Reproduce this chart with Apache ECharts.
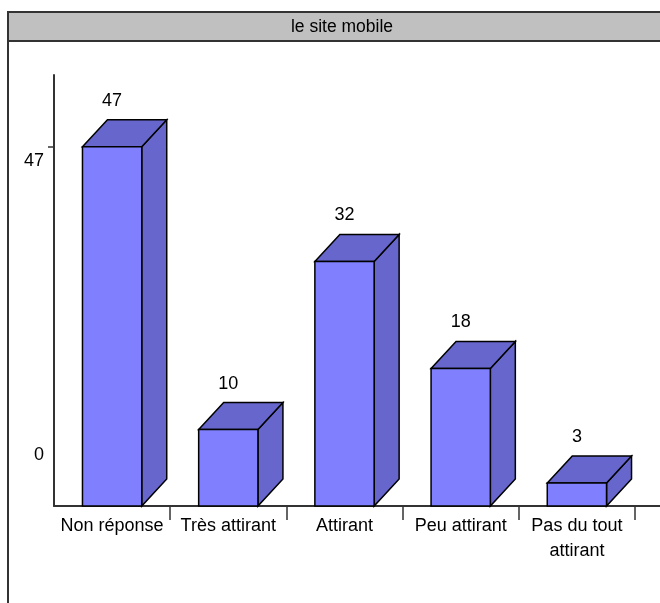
<!DOCTYPE html>
<html>
<head>
<meta charset="utf-8">
<script src="https://cdn.jsdelivr.net/npm/echarts@6/dist/echarts.min.js"></script>
<style>
  html, body { margin: 0; padding: 0; background: #fff; }
  #chart { width: 660px; height: 603px; }
</style>
</head>
<body>
<div id="chart"></div>
<script>
// data
const categories = ['Non réponse', 'Très attirant', 'Attirant', 'Peu attirant', 'Pas du tout\nattirant'];
const counts = [47, 10, 32, 18, 3];
const yLabelValues = [0, 47];
const yTickValues = [47];
const yMax = 56.4;

const FONT = '"Liberation Sans", Arial, sans-serif';
const FRONT = '#8080ff';
const SIDE = '#6666cc';

const chart = echarts.init(document.getElementById('chart'), null, { renderer: 'canvas' });

// 3D box: front face + top + right side, shifted by a fixed depth
function renderBox(params, api) {
  const idx = api.value(0);
  const val = api.value(1);
  const top = api.coord([idx, val]);
  const base = api.coord([idx, 0]);
  const band = api.size([1, 0])[0];
  const w = band * 0.51;
  const dx = 25, dy = 27;
  const x0 = top[0] - w / 2, x1 = top[0] + w / 2;
  const yt = top[1], yb = base[1];
  const line = { stroke: '#000', lineWidth: 1.5 };
  return {
    type: 'group',
    children: [
      {
        type: 'polygon',
        shape: { points: [[x1, yt], [x1 + dx, yt - dy], [x1 + dx, yb - dy], [x1, yb]] },
        style: Object.assign({ fill: SIDE }, line)
      },
      {
        type: 'polygon',
        shape: { points: [[x0, yt], [x0 + dx, yt - dy], [x1 + dx, yt - dy], [x1, yt]] },
        style: Object.assign({ fill: SIDE }, line)
      },
      {
        type: 'rect',
        shape: { x: x0, y: yt, width: w, height: yb - yt },
        style: Object.assign({ fill: FRONT }, line)
      },
      {
        type: 'text',
        style: {
          text: String(val), x: top[0], y: yt - 46,
          align: 'center', verticalAlign: 'middle',
          font: '18px ' + FONT, fill: '#000'
        }
      }
    ]
  };
}

const option = {
  backgroundColor: '#fff',
  animation: false,
  title: {
    text: 'le site mobile',
    left: 337, top: 13, textAlign: 'center',
    textStyle: { fontFamily: FONT, fontSize: 17.5, fontWeight: 'normal', color: '#000' }
  },
  graphic: [
    { type: 'rect', shape: { x: 8, y: 12, width: 670, height: 29 },
      style: { fill: '#c0c0c0', stroke: '#333', lineWidth: 2 }, z: -1 },
    { type: 'line', shape: { x1: 8, y1: 41, x2: 8, y2: 603 },
      style: { stroke: '#333', lineWidth: 2 } },
    { type: 'line', shape: { x1: 635, y1: 506, x2: 660, y2: 506 },
      style: { stroke: '#333', lineWidth: 2 } }
  ],
  grid: { left: 54, right: 25, top: 75, bottom: 97, containLabel: false },
  xAxis: {
    type: 'category',
    data: categories,
    boundaryGap: true,
    axisLine: { lineStyle: { color: '#333', width: 2 } },
    axisTick: {
      show: true, alignWithLabel: false, length: 14,
      interval: i => i > 0,
      lineStyle: { color: '#333', width: 1.5 }
    },
    axisLabel: { interval: 0, margin: 8, fontFamily: FONT, fontSize: 18, lineHeight: 25, color: '#000' }
  },
  yAxis: {
    type: 'value',
    min: 0, max: yMax,
    splitLine: { show: false },
    axisLine: { show: true, lineStyle: { color: '#333', width: 2 } },
    axisTick: { show: true, customValues: yTickValues, length: 6, lineStyle: { color: '#333', width: 1.5 } },
    axisLabel: {
      customValues: yLabelValues,
      margin: 10,
      fontFamily: FONT, fontSize: 18, color: '#000',
      formatter: v => (v === 0 ? '{z|0}' : '{t|' + v + '}'),
      rich: {
        z: { fontFamily: FONT, fontSize: 18, color: '#000', padding: [0, 0, 102, 0] },
        t: { fontFamily: FONT, fontSize: 18, color: '#000', padding: [28, 0, 0, 0] }
      }
    }
  },
  series: [{
    type: 'custom',
    renderItem: renderBox,
    data: counts.map((v, i) => [i, v]),
    clip: false
  }]
};

chart.setOption(option);
</script>
</body>
</html>
